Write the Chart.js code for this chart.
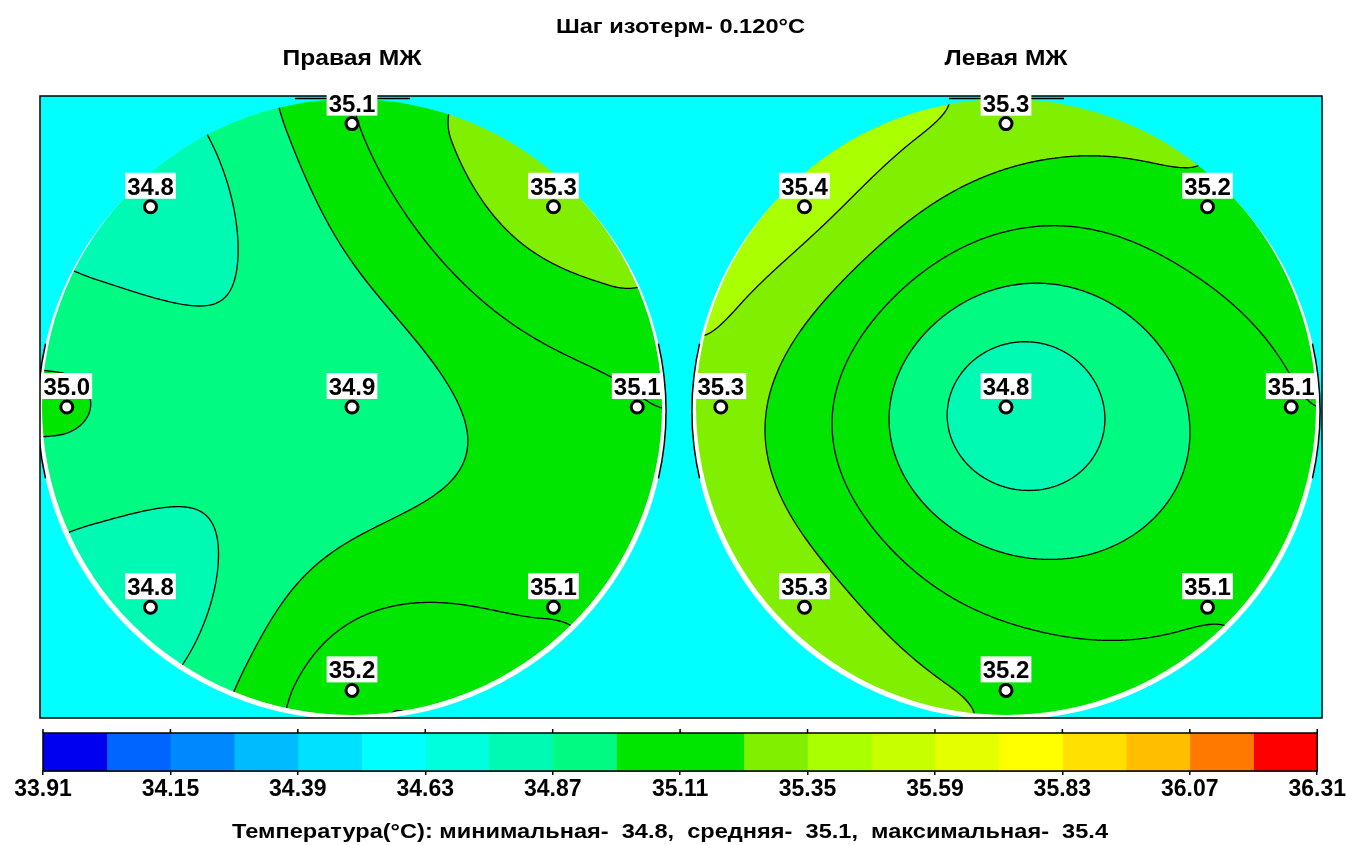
<!DOCTYPE html>
<html>
<head>
<meta charset="utf-8">
<script src="https://cdn.jsdelivr.net/npm/chart.js@4.4.1/dist/chart.umd.min.js"></script>
<style>
html, body { margin: 0; padding: 0; background: #ffffff; }
#wrap { position: relative; width: 1347px; height: 845px; overflow: hidden; background: #fff; }
#mainBox { position: absolute; left: 0; top: 0; width: 1347px; height: 727px; }
#barBox { position: absolute; left: 0; top: 727px; width: 1347px; height: 118px; }
</style>
</head>
<body>
<div id="wrap">
  <div id="mainBox"><canvas id="main"></canvas></div>
  <div id="barBox"><canvas id="bar"></canvas></div>
</div>
<script>
// ------------------------------------------------------------------ data
const stepTitle = 'Шаг изотерм-';
const breastTitles = ['Правая МЖ', 'Левая МЖ'];
// sensor positions inside each breast circle (units of breast radius)
const sensorX = [0, -0.65, 0.65, -0.92, 0, 0.92, -0.65, 0.65, 0];
const sensorY = [0.92, 0.65, 0.65, 0, 0, 0, -0.65, -0.65, -0.92];
// measured temperatures, °C
const rightValues = [35.1, 34.8, 35.3, 35.0, 34.9, 35.1, 34.8, 35.1, 35.2];
const leftValues  = [35.3, 35.4, 35.2, 35.3, 34.8, 35.1, 35.3, 35.1, 35.2];
// colour scale
const scaleMin = 33.91;
const isothermStep = 0.12;
const bandCount = 20;
const tickLabels = ['33.91', '34.15', '34.39', '34.63', '34.87', '35.11', '35.35', '35.59', '35.83', '36.07', '36.31'];
const statsLabels = ['Температура(°C): минимальная-', 'средняя-', 'максимальная-'];

// ------------------------------------------------------------------ styles / layout
const palette = ['#0000F0', '#0064FF', '#0088FF', '#00BCFF', '#00E0FF', '#00FFFF', '#00FFDC', '#00FAB4',
                 '#00FA82', '#00E600', '#00E600', '#80F000', '#AAFF00', '#C8FF00', '#E4FF00', '#FFFF00',
                 '#FFE000', '#FFBE00', '#FF7800', '#FF0000'];
const FONT = '"Liberation Sans", Arial, sans-serif';
const PLOT = { left: 40, top: 96, right: 1322, bottom: 722 };
const R_PX = 310, C0X = 352, C0Y = 409;
const breastCenterX = [0, (1006 - C0X) / R_PX];
const X_MIN = (PLOT.left - C0X) / R_PX, X_MAX = (PLOT.right - C0X) / R_PX;
const Y_MAX = (C0Y - PLOT.top) / R_PX, Y_MIN = -(PLOT.bottom - C0Y) / R_PX;
const MQ_SHAPE = 0.3;     // smoothing of the radial-basis interpolation
const RIM_SLOPE = 0.2;    // extrapolation slope reached at the breast outline

const scaleMax = scaleMin + isothermStep * bandCount;
const tickValues = tickLabels.map(Number);
const paletteRGB = palette.map(h => [parseInt(h.substr(1, 2), 16), parseInt(h.substr(3, 2), 16), parseInt(h.substr(5, 2), 16)]);
const RING = Math.max(...sensorX.map((sx, i) => Math.hypot(sx, sensorY[i])));
const RIM_W = 1 - RING;

// ------------------------------------------------------------------ interpolation (multiquadric radial basis)
const C2 = MQ_SHAPE * MQ_SHAPE;
function phi(dx, dy) { return Math.sqrt(dx * dx + dy * dy + C2); }
function solveRBF(vals) {
  const n = sensorX.length, N = n + 3;
  const A = [], b = [];
  for (let i = 0; i < N; i++) { A.push(new Array(N).fill(0)); b.push(0); }
  for (let i = 0; i < n; i++) {
    for (let j = 0; j < n; j++) A[i][j] = phi(sensorX[i] - sensorX[j], sensorY[i] - sensorY[j]);
    A[i][n] = 1; A[i][n + 1] = sensorX[i]; A[i][n + 2] = sensorY[i];
    A[n][i] = 1; A[n + 1][i] = sensorX[i]; A[n + 2][i] = sensorY[i];
    b[i] = vals[i];
  }
  for (let c = 0; c < N; c++) {
    let p = c;
    for (let r = c + 1; r < N; r++) if (Math.abs(A[r][c]) > Math.abs(A[p][c])) p = r;
    [A[c], A[p]] = [A[p], A[c]]; [b[c], b[p]] = [b[p], b[c]];
    for (let r = c + 1; r < N; r++) {
      const f = A[r][c] / A[c][c];
      for (let k = c; k < N; k++) A[r][k] -= f * A[c][k];
      b[r] -= f * b[c];
    }
  }
  const x = new Array(N).fill(0);
  for (let r = N - 1; r >= 0; r--) {
    let s = b[r];
    for (let k = r + 1; k < N; k++) s -= A[r][k] * x[k];
    x[r] = s / A[r][r];
  }
  return x;
}
function evalRBF(c, dx, dy) {
  const r = Math.sqrt(dx * dx + dy * dy);
  if (r > RING) {
    // smooth (C1) damping of the extrapolation outside the sensor ring
    const u = (r - RING) / RIM_W;
    const g = u <= 1 ? u - (1 - RIM_SLOPE) * u * u / 2 : (1 + RIM_SLOPE) / 2 + RIM_SLOPE * (u - 1);
    const k = (RING + RIM_W * g) / r;
    dx *= k; dy *= k;
  }
  const n = sensorX.length;
  let s = c[n] + c[n + 1] * dx + c[n + 2] * dy;
  for (let i = 0; i < n; i++) s += c[i] * phi(dx - sensorX[i], dy - sensorY[i]);
  return s;
}
const coeffs = [solveRBF(rightValues), solveRBF(leftValues)];
const breastValues = [rightValues, leftValues];

function bandOf(v) {
  let k = Math.floor((v - scaleMin) / isothermStep + 1e-9);
  return Math.max(0, Math.min(bandCount - 1, k));
}

function fitText(ctx, text, cx, baseline, font, width) {
  ctx.save();
  ctx.font = font;
  const w = ctx.measureText(text).width;
  ctx.translate(cx, baseline);
  ctx.scale(width / w, 1);
  ctx.textAlign = 'center';
  ctx.textBaseline = 'alphabetic';
  ctx.fillStyle = '#000';
  ctx.fillText(text, 0, 0);
  ctx.restore();
}

// marching squares segments for one level
function addContour(ctx, grid, nx, ny, x0, y0, st, L) {
  for (let j = 0; j < ny - 1; j++) {
    for (let i = 0; i < nx - 1; i++) {
      const v0 = grid[j * nx + i], v1 = grid[j * nx + i + 1], v2 = grid[(j + 1) * nx + i + 1], v3 = grid[(j + 1) * nx + i];
      const c = (v0 >= L ? 1 : 0) | (v1 >= L ? 2 : 0) | (v2 >= L ? 4 : 0) | (v3 >= L ? 8 : 0);
      if (c === 0 || c === 15) continue;
      const X = x0 + i * st, Y = y0 + j * st;
      const T = () => [X + st * (L - v0) / (v1 - v0), Y];
      const Rr = () => [X + st, Y + st * (L - v1) / (v2 - v1)];
      const B = () => [X + st * (L - v3) / (v2 - v3), Y + st];
      const Lf = () => [X, Y + st * (L - v0) / (v3 - v0)];
      const seg = (a, b) => { ctx.moveTo(a[0], a[1]); ctx.lineTo(b[0], b[1]); };
      const centre = (v0 + v1 + v2 + v3) / 4 >= L;
      switch (c) {
        case 1: case 14: seg(Lf(), T()); break;
        case 2: case 13: seg(T(), Rr()); break;
        case 3: case 12: seg(Lf(), Rr()); break;
        case 4: case 11: seg(Rr(), B()); break;
        case 6: case 9: seg(T(), B()); break;
        case 7: case 8: seg(Lf(), B()); break;
        case 5: if (centre) { seg(T(), Rr()); seg(Lf(), B()); } else { seg(Lf(), T()); seg(Rr(), B()); } break;
        case 10: if (centre) { seg(Lf(), T()); seg(Rr(), B()); } else { seg(T(), Rr()); seg(Lf(), B()); } break;
      }
    }
  }
}

function drawBreast(chart, b) {
  const { ctx, scales: { x, y } } = chart;
  const off = breastCenterX[b];
  const cx = x.getPixelForValue(off), cy = y.getPixelForValue(0);
  const R = x.getPixelForValue(off + 1) - cx, Ry = cy - y.getPixelForValue(1);
  const c = coeffs[b];

  // white rim behind the map
  ctx.save();
  ctx.fillStyle = '#ffffff';
  ctx.beginPath(); ctx.ellipse(cx, cy + 4, R + 4, Ry + 1, 0, 0, Math.PI * 2); ctx.fill();
  ctx.strokeStyle = '#000'; ctx.lineWidth = 1.5;
  ctx.beginPath(); ctx.ellipse(cx, cy + 4, R + 4, Ry + 1, 0, -0.22, 0.22); ctx.stroke();
  ctx.beginPath(); ctx.ellipse(cx, cy + 4, R + 4, Ry + 1, 0, Math.PI - 0.22, Math.PI + 0.22); ctx.stroke();
  ctx.beginPath(); ctx.moveTo(cx - 57, cy - Ry - 0.5); ctx.lineTo(cx + 58, cy - Ry - 0.5); ctx.stroke();
  ctx.restore();

  // colour field
  const W = Math.ceil(2 * Math.max(R, Ry)) + 6;
  const ox = Math.floor(cx - W / 2), oy = Math.floor(cy - W / 2);
  const off2 = document.createElement('canvas');
  off2.width = W; off2.height = W;
  const octx = off2.getContext('2d');
  const img = octx.createImageData(W, W);
  const colD = new Float64Array(W), rowD = new Float64Array(W);
  for (let i = 0; i < W; i++) colD[i] = x.getValueForPixel(ox + i + 0.5) - off;
  for (let j = 0; j < W; j++) rowD[j] = y.getValueForPixel(oy + j + 0.5);
  for (let j = 0; j < W; j++) {
    const dy = rowD[j];
    for (let i = 0; i < W; i++) {
      const dx = colD[i];
      if (dx * dx + dy * dy > 1.03) continue;
      const col = paletteRGB[bandOf(evalRBF(c, dx, dy))];
      const p = (j * W + i) * 4;
      img.data[p] = col[0]; img.data[p + 1] = col[1]; img.data[p + 2] = col[2]; img.data[p + 3] = 255;
    }
  }
  octx.putImageData(img, 0, 0);

  ctx.save();
  ctx.beginPath(); ctx.ellipse(cx, cy, R, Ry, 0, 0, Math.PI * 2); ctx.clip();
  ctx.drawImage(off2, ox, oy);

  // isotherms
  const st = 2;
  const nx = Math.ceil(W / st) + 1, ny = nx;
  const grid = new Float64Array(nx * ny);
  for (let j = 0; j < ny; j++) {
    const dy = y.getValueForPixel(oy + j * st);
    for (let i = 0; i < nx; i++) grid[j * nx + i] = evalRBF(c, x.getValueForPixel(ox + i * st) - off, dy);
  }
  ctx.strokeStyle = '#000';
  ctx.lineWidth = 1.3;
  ctx.lineCap = 'round';
  ctx.beginPath();
  for (let k = 1; k < bandCount; k++) addContour(ctx, grid, nx, ny, ox, oy, st, scaleMin + k * isothermStep);
  ctx.stroke();
  ctx.restore();
}

const thermoPlugin = {
  id: 'thermo',
  beforeDatasetsDraw(chart) {
    const { ctx, chartArea: a } = chart;
    ctx.save();
    ctx.fillStyle = '#00FFFF';
    ctx.fillRect(a.left, a.top, a.right - a.left, a.bottom - a.top);
    ctx.beginPath(); ctx.rect(a.left, a.top, a.right - a.left, a.bottom - a.top); ctx.clip();
    drawBreast(chart, 0);
    drawBreast(chart, 1);
    ctx.restore();
    ctx.save();
    ctx.strokeStyle = '#000'; ctx.lineWidth = 1.5;
    ctx.strokeRect(a.left, a.top, a.right - a.left, a.bottom - a.top);
    ctx.restore();
  },
  afterDatasetsDraw(chart) {
    const { ctx, scales: { x, y } } = chart;
    ctx.save();
    ctx.font = 'bold 24px ' + FONT;
    ctx.textAlign = 'center';
    ctx.textBaseline = 'alphabetic';
    for (let b = 0; b < 2; b++) {
      const vals = breastValues[b];
      for (let i = 0; i < vals.length; i++) {
        const px = x.getPixelForValue(breastCenterX[b] + sensorX[i]);
        const py = y.getPixelForValue(sensorY[i]);
        const t = vals[i].toFixed(1);
        const w = ctx.measureText(t).width;
        ctx.fillStyle = '#fff';
        ctx.fillRect(px - w / 2 - 2, py - 34, w + 4, 26);
        ctx.fillStyle = '#000';
        ctx.fillText(t, px, py - 12);
      }
    }
    ctx.restore();
  },
  afterDraw(chart) {
    const { ctx, scales: { x } } = chart;
    fitText(ctx, stepTitle + ' ' + isothermStep.toFixed(3) + '°C', 680.5, 33, 'bold 20px ' + FONT, 249);
    fitText(ctx, breastTitles[0], x.getPixelForValue(breastCenterX[0]), 65, 'bold 22px ' + FONT, 139);
    fitText(ctx, breastTitles[1], x.getPixelForValue(breastCenterX[1]), 65, 'bold 22px ' + FONT, 123);
  }
};

new Chart(document.getElementById('main'), {
  type: 'scatter',
  data: {
    datasets: breastValues.map((vals, b) => ({
      label: breastTitles[b],
      data: vals.map((v, i) => ({ x: breastCenterX[b] + sensorX[i], y: sensorY[i], t: v })),
      pointRadius: 6, pointHoverRadius: 6,
      pointBackgroundColor: '#ffffff', pointBorderColor: '#000000', pointBorderWidth: 3
    }))
  },
  options: {
    responsive: true, maintainAspectRatio: false, animation: false, events: [],
    layout: { padding: { left: PLOT.left, top: PLOT.top, right: 1347 - PLOT.right, bottom: 727 - PLOT.bottom } },
    scales: {
      x: { type: 'linear', display: false, min: X_MIN, max: X_MAX },
      y: { type: 'linear', display: false, min: Y_MIN, max: Y_MAX }
    },
    plugins: { legend: { display: false }, tooltip: { enabled: false } }
  },
  plugins: [thermoPlugin]
});

// ------------------------------------------------------------------ colour bar
const allValues = rightValues.concat(leftValues);
const vMin = Math.min(...allValues), vMax = Math.max(...allValues);
const vMean = allValues.reduce((s, v) => s + v, 0) / allValues.length;

const barPlugin = {
  id: 'barFrame',
  afterDatasetsDraw(chart) {
    const { ctx, chartArea: a, scales: { x } } = chart;
    ctx.save();
    ctx.strokeStyle = '#000'; ctx.lineWidth = 1.5;
    ctx.strokeRect(a.left, a.top, a.right - a.left, a.bottom - a.top);
    ctx.beginPath();
    tickValues.forEach(v => { const p = x.getPixelForValue(v); ctx.moveTo(p, a.top - 4); ctx.lineTo(p, a.top); });
    ctx.stroke();
    ctx.restore();
  },
  afterDraw(chart) {
    const txt = statsLabels[0] + '  ' + vMin.toFixed(1) + ',  ' + statsLabels[1] + '  ' + vMean.toFixed(1) +
                ',  ' + statsLabels[2] + '  ' + vMax.toFixed(1);
    fitText(chart.ctx, txt, 670, 111, 'bold 21px ' + FONT, 876);
  }
};

new Chart(document.getElementById('bar'), {
  type: 'bar',
  data: {
    labels: [''],
    datasets: palette.map((col, k) => ({
      label: 'band' + k,
      data: [[scaleMin + k * isothermStep, scaleMin + (k + 1) * isothermStep]],
      backgroundColor: col, borderWidth: 0, grouped: false,
      barPercentage: 1, categoryPercentage: 1
    }))
  },
  options: {
    indexAxis: 'y',
    responsive: true, maintainAspectRatio: false, animation: false, events: [],
    layout: { padding: { left: 43, right: 29, top: 6, bottom: 34 } },
    scales: {
      x: {
        type: 'linear', min: scaleMin, max: scaleMax, position: 'bottom',
        afterBuildTicks: s => { s.ticks = tickValues.map(v => ({ value: v })); },
        afterFit: s => { s.height = 40; },
        grid: { display: true, drawOnChartArea: false, drawTicks: true, tickLength: 4, color: '#000', lineWidth: 1.5 },
        border: { display: true, color: '#000', width: 1.5 },
        ticks: {
          autoSkip: false, maxRotation: 0, minRotation: 0, padding: 1, color: '#000',
          font: { family: FONT, size: 23, weight: 'bold' },
          callback: (v, i) => tickLabels[i]
        }
      },
      y: { display: false }
    },
    plugins: { legend: { display: false }, tooltip: { enabled: false } }
  },
  plugins: [barPlugin]
});
</script>
</body>
</html>
